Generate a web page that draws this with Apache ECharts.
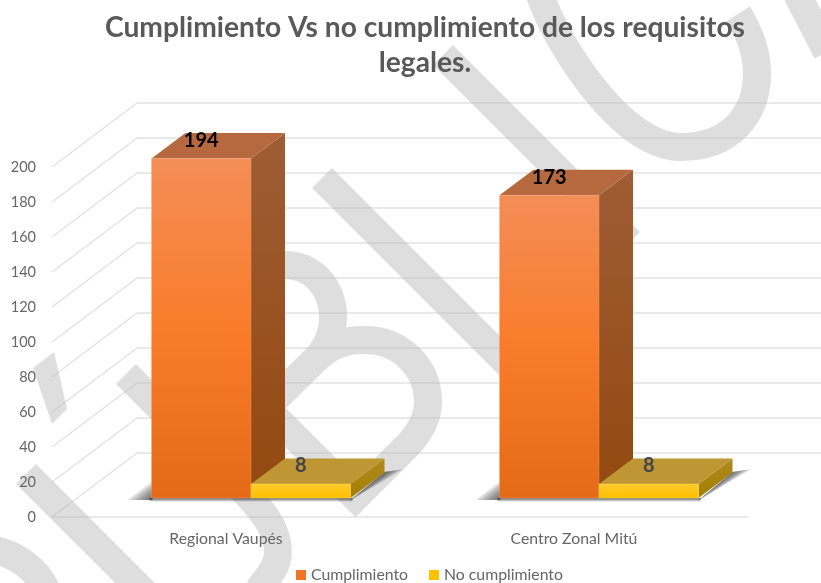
<!DOCTYPE html>
<html>
<head>
<meta charset="utf-8">
<style>
  html, body { margin: 0; padding: 0; background: #fff; }
  #main { width: 821px; height: 583px; }
</style>
<script src="https://cdn.jsdelivr.net/npm/echarts@6/dist/echarts.min.js"></script>
</head>
<body>
<div id="main"></div>
<script>
var categories = ['Regional Vaupés', 'Centro Zonal Mitú']
var cumplimiento = [194, 173]
var noCumplimiento = [8, 8]
var yTicks = [0, 20, 40, 60, 80, 100, 120, 140, 160, 180, 200]

// fake 3d: offset of the bars from the front plane, depth of the box, depth of the walls
var barOffset = [25, -19]
var barDepth = [34, -25.5]
var wallDepth = [85, -64]
var barWidth = 99.5
var fontName = 'Lato, "Noto Sans", sans-serif'

function vGrad(a, b, c) {
  var stops = [{ offset: 0, color: a }, { offset: 1, color: c || b }]
  if (c) stops.splice(1, 0, { offset: 0.5, color: b })
  return new echarts.graphic.LinearGradient(0, 0, 0, 1, stops)
}

var orangeStyle = {
  front: vGrad('#F48D57', '#F97C2A', '#E46A18'),
  side: vGrad('#9F5D35', '#93480F'),
  top: '#B6683F',
  edge: 'rgba(250,170,120,0.35)',
  label: '#000',
  labelWeight: 'bold'
}
var yellowStyle = {
  front: vGrad('#FFCB2B', '#FFC000'),
  side: vGrad('#AE8A1E', '#A47E00'),
  top: '#BF9634',
  edge: 'rgba(255,220,110,0.4)',
  label: '#44444c',
  labelWeight: 'bold'
}

function poly(points, fill, stroke) {
  return {
    type: 'polygon',
    shape: { points: points },
    style: { fill: fill, stroke: stroke || null, lineWidth: stroke ? 1 : 0 }
  }
}

function renderBox(slot, look) {
  return function (params, api) {
    var top = api.coord([api.value(0), api.value(1)])
    var base = api.coord([api.value(0), 0])
    var x0 = base[0] + barOffset[0] - barWidth + slot * barWidth
    var x1 = x0 + barWidth
    var y0 = base[1] + barOffset[1]
    var y1 = top[1] + barOffset[1]
    var dx = barDepth[0]
    var dy = barDepth[1]
    return {
      type: 'group',
      children: [
        poly([[x1, y1], [x1 + dx, y1 + dy], [x1 + dx, y0 + dy], [x1, y0]], look.side),
        poly([[x0, y1], [x1, y1], [x1 + dx, y1 + dy], [x0 + dx, y1 + dy]], look.top),
        poly([[x0, y0], [x1, y0], [x1, y1], [x0, y1]], look.front, look.edge),
        {
          type: 'text',
          style: {
            x: (x0 + x1) / 2,
            y: y1 - 18,
            text: String(api.value(1)),
            align: 'center',
            verticalAlign: 'middle',
            fill: look.label,
            font: look.labelWeight + ' 20px ' + fontName
          }
        }
      ]
    }
  }
}

// back wall, side wall and floor lines
function renderWalls(params, api) {
  var sys = params.coordSys
  var y = api.coord([0, api.value(1)])[1]
  var lineStyle = { stroke: 'rgba(190,190,190,0.45)', lineWidth: 1.5 }
  var bx = sys.x + wallDepth[0]
  var by = y + wallDepth[1]
  var kids = [
    { type: 'line', shape: { x1: sys.x, y1: y, x2: bx, y2: by }, style: lineStyle },
    { type: 'line', shape: { x1: bx, y1: by, x2: api.getWidth(), y2: by }, style: lineStyle }
  ]
  if (api.value(1) === 0) {
    kids.push({ type: 'line', shape: { x1: sys.x, y1: y, x2: sys.x + sys.width, y2: y }, style: lineStyle })
  }
  return { type: 'group', children: kids }
}

// soft floor shadow: nested see-through wedges left, below and right of the pair of boxes
var shadowSteps = [1, 0.86, 0.72, 0.58, 0.44, 0.3, 0.16]
var shadowFill = 'rgba(60,60,60,0.15)'

function renderShadow(params, api) {
  var base = api.coord([api.value(0), 0])
  var x0 = base[0] + barOffset[0] - barWidth
  var x1 = x0 + barWidth * 2
  var y0 = base[1] + barOffset[1]
  var kids = []
  shadowSteps.forEach(function (t) {
    kids.push(poly([[x0 - 24 * t, y0 + 2], [x0 + 1, y0 + 2], [x0 + 1, y0 - 17 * t]], shadowFill))
    kids.push(poly([[x0 - 2, y0], [x1 + 2, y0], [x1 + 2, y0 + 3.5 * t], [x0 - 2, y0 + 3.5 * t]], shadowFill))
    kids.push(poly([[x1 - 1, y0 + 3], [x1 + 34, y0 - 26], [x1 + 34 + 19 * t, y0 - 26 - 3 * t]], shadowFill))
  })
  return { type: 'group', children: kids }
}

// grey watermark letters behind the chart
var wmStyle = { fill: null, stroke: '#DEDEDE', lineWidth: 28, lineCap: 'butt', lineJoin: 'miter', miterLimit: 4 }
var wmPaths = [
  'M540,-5 C555,40 620,147 681,147 C730,147 757,115 757,73 C757,50 748,30 738,14',
  'M797,-6 L827,52',
  'M443,55 L630,242',
  'M322,178 L590,446',
  'M126,374 L225,473 C265,510 278,530 278,552 C278,565 270,575 258,590',
  'M26,474 L170,618',
  'M-10,549 C15,553 40,570 48,595',
  'M200,342 L355.5,497.5 L408,445 C420,432 428,418 428,402 C428,367 400,340 365,340 C345,340 330,345 315,360 L266,408',
  'M285,265 C312,265 333,287 333,317 C333,335 325,350 315,360'
]

function renderWatermark() {
  var kids = wmPaths.map(function (d) {
    return { type: 'path', shape: { pathData: d }, style: wmStyle }
  })
  kids.push(poly([[54, 352], [33, 368], [52, 424], [67, 409]], '#DEDEDE'))
  return { type: 'group', children: kids }
}

var chartDom = document.getElementById('main')
var myChart = echarts.init(chartDom)

var option = {
  animation: false,
  backgroundColor: '#fff',
  title: {
    text: 'Cumplimiento Vs no cumplimiento de los requisitos\nlegales.',
    left: 420,
    top: 5,
    textAlign: 'center',
    textStyle: {
      color: '#595959',
      fontFamily: fontName,
      fontWeight: 'bold',
      fontSize: 28.2,
      lineHeight: 35
    }
  },
  legend: {
    left: 291,
    top: 562,
    itemWidth: 10,
    itemHeight: 10,
    itemGap: 21,
    icon: 'rect',
    data: ['Cumplimiento', 'No cumplimiento'],
    textStyle: { color: '#666', fontFamily: fontName, fontSize: 15.8 }
  },
  grid: { left: 52, right: 73, top: 167, bottom: 66 },
  xAxis: {
    type: 'category',
    data: categories,
    axisLine: { show: false },
    axisTick: { show: false },
    axisLabel: { color: '#666', fontFamily: fontName, fontSize: 15.8, margin: 14 }
  },
  yAxis: {
    type: 'value',
    min: 0,
    max: 200,
    interval: 20,
    axisLine: { show: false },
    axisTick: { show: false },
    splitLine: { show: false },
    axisLabel: { color: '#666', fontFamily: fontName, fontSize: 14.5, margin: 16, padding: [2, 0, 0, 0] }
  },
  series: [
    {
      name: 'watermark',
      type: 'custom',
      z: 0,
      silent: true,
      clip: false,
      renderItem: renderWatermark,
      data: [[0, 0]]
    },
    {
      name: 'walls',
      type: 'custom',
      z: 1,
      silent: true,
      renderItem: renderWalls,
      data: yTicks.map(function (v) { return [0, v] })
    },
    {
      name: 'shadow',
      type: 'custom',
      z: 2,
      silent: true,
      renderItem: renderShadow,
      data: categories.map(function (c, i) { return [i, 0] })
    },
    {
      name: 'Cumplimiento',
      type: 'custom',
      z: 3,
      itemStyle: { color: '#F07427' },
      renderItem: renderBox(0, orangeStyle),
      data: cumplimiento.map(function (v, i) { return [i, v] })
    },
    {
      name: 'No cumplimiento',
      type: 'custom',
      z: 4,
      itemStyle: { color: '#FFC000' },
      renderItem: renderBox(1, yellowStyle),
      data: noCumplimiento.map(function (v, i) { return [i, v] })
    }
  ]
}

option && myChart.setOption(option)
</script>
</body>
</html>
